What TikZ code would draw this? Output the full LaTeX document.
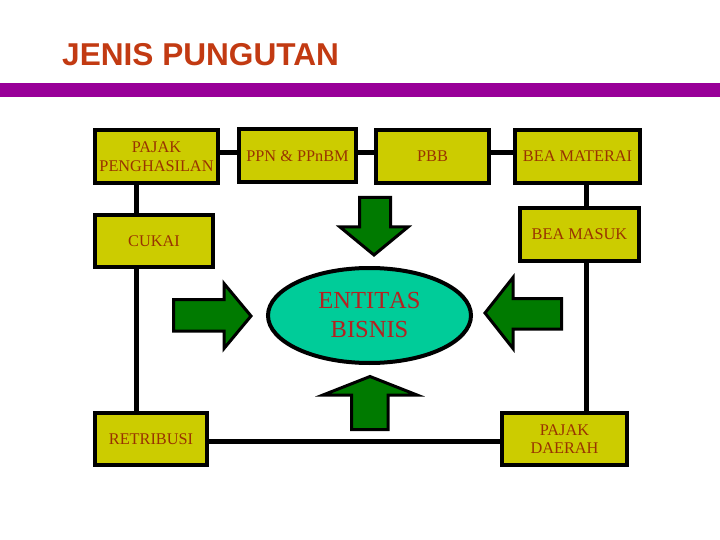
\documentclass[tikz,border=0pt]{standalone}
\usepackage{fontspec}
\setmainfont{Liberation Serif}
\newfontfamily\titlefont{Liberation Sans}
\usetikzlibrary{shapes.geometric}
\definecolor{boxyellow}{HTML}{CCCC00}
\definecolor{boxtext}{HTML}{993300}
\definecolor{titlered}{HTML}{C23A12}
\definecolor{barpurple}{HTML}{990099}
\definecolor{arrowgreen}{HTML}{007A00}
\definecolor{entityfill}{HTML}{00CC99}
\definecolor{entitytext}{HTML}{B52020}
\tikzset{
  taxbox/.style={rectangle, draw=black, fill=boxyellow, text=boxtext,
                 line width=4pt, inner sep=0pt, align=center,
                 minimum height=53pt,
                 font=\fontsize{16.3}{18.5}\selectfont},
  link/.style={draw=black, line width=5pt},
  bigarrow/.style={draw=black, fill=arrowgreen, line width=3pt, line join=miter},
  entity/.style={ellipse, draw=black, fill=entityfill, text=entitytext,
                 line width=4pt, inner sep=0pt, align=center,
                 minimum width=203pt, minimum height=95pt,
                 font=\fontsize{24.5}{29}\selectfont\addfontfeatures{Kerning=Off}},
  headline/.style={text=titlered, anchor=base west, inner sep=0pt,
                   font=\titlefont\bfseries\fontsize{31.6}{38}\selectfont},
}

\begin{document}
\begin{tikzpicture}[x=1pt, y=-1pt]
  \useasboundingbox (0,0) rectangle (720,540);

  % --- title and bar -------------------------------------------------------
  \node[headline] (title) at (62,66) {JENIS PUNGUTAN};
  \fill[barpurple] (0,83) rectangle (720,97);

  % --- tax boxes -----------------------------------------------------------
  \node[taxbox, minimum width=123pt] (pph) at (156.5,156.5) {PAJAK\\PENGHASILAN};
  \node[taxbox, minimum width=117pt] (ppn) at (297.5,156) {PPN \& PPnBM};
  \node[taxbox, minimum width=113pt] (pbb) at (432.5,156.5) {PBB};
  \node[taxbox, minimum width=125pt] (materai) at (577.5,156.5) {BEA MATERAI};
  \node[taxbox, minimum width=119pt] (masuk) at (579.5,234.5) {BEA MASUK};
  \node[taxbox, minimum width=118pt, minimum height=52pt] (cukai) at (154,241) {CUKAI};
  \node[taxbox, minimum width=112pt, minimum height=52pt] (retribusi) at (151,439) {RETRIBUSI};
  \node[taxbox, minimum width=125pt, minimum height=52pt] (daerah) at (564.5,439) {PAJAK\\DAERAH};

  % --- frame lines ---------------------------------------------------------
  \coordinate (toprail) at (0,153);
  \coordinate (bottomrail) at (0,441.5);
  \coordinate (leftrail) at (136.5,0);
  \coordinate (rightrail) at (586,0);
  \draw[link] (pph.east |- toprail) -- (ppn.west |- toprail);
  \draw[link] (ppn.east |- toprail) -- (pbb.west |- toprail);
  \draw[link] (pbb.east |- toprail) -- (materai.west |- toprail);
  \draw[link] (pph.south -| leftrail) -- (cukai.north -| leftrail);
  \draw[link] (cukai.south -| leftrail) -- (retribusi.north -| leftrail);
  \draw[link] (materai.south -| rightrail) -- (masuk.north -| rightrail);
  \draw[link] (masuk.south -| rightrail) -- (daerah.north -| rightrail);
  \draw[link] (retribusi.east |- bottomrail) -- (daerah.west |- bottomrail);

  % --- business entity -----------------------------------------------------
  \node[entity] (entitas) at (369.5,315.5) {ENTITAS\\BISNIS};

  % --- block arrows into the entity ----------------------------------------
  \draw[bigarrow] (359.5,197.5) -- (390.5,197.5) -- (390.5,227) -- (408,227)
    -- (374,255) -- (340,227) -- (359.5,227) -- cycle;
  \draw[bigarrow] (173.5,299.5) -- (224,299.5) -- (224,283.5) -- (251,316)
    -- (224,348.5) -- (224,331) -- (173.5,331) -- cycle;
  \draw[bigarrow] (485,313) -- (513,277.5) -- (513,298.5) -- (561.5,298.5)
    -- (561.5,329) -- (513,329) -- (513,348.5) -- cycle;
  \draw[bigarrow] (370,376.5) -- (417,395) -- (388,395) -- (388,429.5)
    -- (351.5,429.5) -- (351.5,395) -- (323,395) -- cycle;

\end{tikzpicture}
\end{document}
